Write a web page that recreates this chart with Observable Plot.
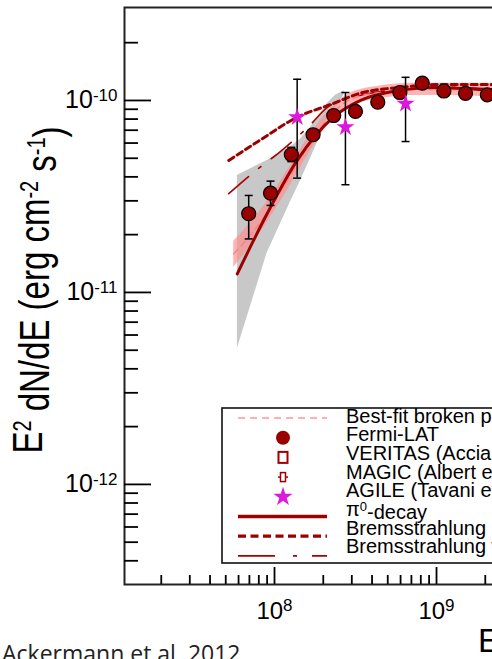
<!DOCTYPE html>
<html><head><meta charset="utf-8">
<script src="https://cdn.jsdelivr.net/npm/d3@7"></script>
<script src="https://cdn.jsdelivr.net/npm/@observablehq/plot@0.6"></script>
<style>
html,body{margin:0;padding:0;background:#fff;overflow:hidden;}
#wrap{position:relative;width:492px;height:659px;overflow:hidden;background:#fff;}
#wrap svg{position:absolute;left:0;top:0;}
</style></head><body><div id="wrap"></div>
<script>
// ---- data (E in eV, E^2 dN/dE in erg cm^-2 s^-1) ----
const fermiE  = [6.93e7, 9.45e7, 1.27e8, 1.73e8, 2.32e8, 3.16e8, 4.34e8, 5.94e8, 8.17e8, 1.11e9, 1.51e9, 2.06e9];
const fermiF  = [2.57e-11, 3.29e-11, 5.23e-11, 6.63e-11, 8.35e-11, 8.77e-11, 9.8e-11, 1.10e-10, 1.23e-10, 1.12e-10, 1.09e-10, 1.07e-10];
const fermiLo = [1.9e-11, 2.84e-11, 4.8e-11, 6.2e-11, 7.9e-11, 8.4e-11, 9.4e-11, 1.06e-10, 1.18e-10, 1.07e-10, 1.04e-10, 1.02e-10];
const fermiHi = [3.2e-11, 3.8e-11, 5.7e-11, 7.1e-11, 8.8e-11, 9.2e-11, 1.02e-10, 1.14e-10, 1.28e-10, 1.17e-10, 1.14e-10, 1.12e-10];

const agileE  = [1.38e8, 2.74e8, 6.44e8];
const agileF  = [8.18e-11, 7.26e-11, 9.62e-11];
const agileLo = [3.94e-11, 3.64e-11, 6.11e-11];
const agileHi = [1.29e-10, 1.10e-10, 1.32e-10];

const pionE = [5.89e7, 9.0e7, 1.38e8, 2.31e8, 3.4e8, 6.0e8, 9.6e8, 2.25e9];
const pionF = [1.25e-11, 2.57e-11, 4.87e-11, 8.18e-11, 1.0e-10, 1.13e-10, 1.17e-10, 1.13e-10];

const bremsE = [5.22e7, 8.0e7, 1.38e8, 2.2e8, 3.5e8, 6.0e8, 1.0e9, 2.25e9];
const bremsF = [4.87e-11, 6.15e-11, 8.18e-11, 9.5e-11, 1.10e-10, 1.17e-10, 1.21e-10, 1.21e-10];

const bremsBrkE = [5.22e7, 7.45e7, 1.14e8, 1.6e8, 2.2e8, 3.5e8, 7.0e8, 1.2e9, 2.25e9];
const bremsBrkF = [3.27e-11, 4.23e-11, 5.6e-11, 7.23e-11, 9.42e-11, 1.07e-10, 1.15e-10, 1.17e-10, 1.15e-10];

const fitE  = [5.6e7, 8.0e7, 1.2e8, 1.7e8, 2.3e8, 3.0e8, 4.5e8, 7.0e8, 1.2e9, 2.25e9];
const fitF  = [1.59e-11, 2.26e-11, 3.83e-11, 6.19e-11, 8.66e-11, 1.02e-10, 1.10e-10, 1.14e-10, 1.14e-10, 1.13e-10];
const fitLo = [1.35e-11, 2.0e-11, 3.4e-11, 5.6e-11, 8.0e-11, 9.4e-11, 1.02e-10, 1.06e-10, 1.06e-10, 1.04e-10];
const fitHi = [1.85e-11, 2.6e-11, 4.3e-11, 6.8e-11, 9.4e-11, 1.1e-10, 1.19e-10, 1.23e-10, 1.23e-10, 1.23e-10];

const grayE  = [5.9e7, 9.0e7, 1.25e8, 1.45e8, 1.67e8, 2.11e8, 2.4e8, 2.7e8];
const grayLo = [5.1e-12, 1.6e-11, 2.94e-11, 3.83e-11, 5.0e-11, 7.87e-11, 9.1e-11, 1.08e-10];
const grayHi = [4.07e-11, 4.87e-11, 5.71e-11, 6.3e-11, 7.26e-11, 9.6e-11, 1.07e-10, 1.12e-10];

const xMajorTicks = [1e8, 1e9];
const xMinorTicks = [2e7, 3e7, 4e7, 5e7, 6e7, 7e7, 8e7, 9e7, 2e8, 3e8, 4e8, 5e8, 6e8, 7e8, 8e8, 9e8, 2e9];
const yMajorTicks = [1e-12, 1e-11, 1e-10];
const yMinorTicks = [4e-13, 5e-13, 6e-13, 7e-13, 8e-13, 9e-13, 2e-12, 3e-12, 4e-12, 5e-12, 6e-12, 7e-12, 8e-12, 9e-12,
                     2e-11, 3e-11, 4e-11, 5e-11, 6e-11, 7e-11, 8e-11, 9e-11, 2e-10];

const legendLabels = ["Best-fit broken power law", "Fermi-LAT", "VERITAS (Acciari et al. 2010)", "MAGIC (Albert et al. 2007)",
                      "AGILE (Tavani et al. 2010)", "π^{0}-decay", "Bremsstrahlung", "Bremsstrahlung with break"];
const yLabelText = "E^{2} dN/dE (erg cm^{-2} s^{-1})";
const xLabelText = "E (eV)";
const captionText = "Ackermann et al. 2012";

// ---- tables ----
const rows = (E, F, extra = {}) => E.map((e, i) => Object.fromEntries([["e", e], ["f", F[i]], ...Object.entries(extra).map(([k, a]) => [k, a[i]])]));
const fermi = rows(fermiE, fermiF, {lo: fermiLo, hi: fermiHi});
const agile = rows(agileE, agileF, {lo: agileLo, hi: agileHi});
const pion = rows(pionE, pionF);
const brems = rows(bremsE, bremsF);
const bremsBrk = rows(bremsBrkE, bremsBrkF);
const fit = rows(fitE, fitF, {lo: fitLo, hi: fitHi});
const gray = rows(grayE, grayE.map(() => 0), {lo: grayLo, hi: grayHi});

const DARK = "#9c0000", PINK = "#ff9696", MAG = "#dd18dd";
const cap = {draw(ctx, size) { const r = Math.sqrt(size / Math.PI); ctx.moveTo(-r, 0); ctx.lineTo(r, 0); }};
const fmt = d => "10^{" + Math.round(Math.log10(d)) + "}";

const chart = Plot.plot({
  width: 492, height: 659,
  marginLeft: 124, marginRight: -2, marginTop: 7, marginBottom: 75,
  style: {fontFamily: "'Liberation Sans', Arial, sans-serif", background: "transparent", color: "black"},
  x: {type: "log", domain: [1.186e7, 2.28e9]},
  y: {type: "log", domain: [3.01e-13, 3.05e-10]},
  marks: [
    Plot.areaY(gray, {x: "e", y1: "lo", y2: "hi", fill: "#c8c8c8"}),
    Plot.areaY(fit, {x: "e", y1: "lo", y2: "hi", fill: "#ff8c8c", fillOpacity: 0.65, curve: "monotone-x"}),
    Plot.line(brems, {x: "e", y: "f", stroke: DARK, strokeWidth: 3, strokeDasharray: "6,4", curve: "monotone-x"}),
    Plot.line(bremsBrk, {x: "e", y: "f", stroke: "#a80000", strokeWidth: 1.6, strokeDasharray: "26,13,3,13", curve: "monotone-x"}),
    Plot.line(fit, {x: "e", y: "f", stroke: "#ff8080", strokeWidth: 1.5, strokeDasharray: "6,5", curve: "monotone-x"}),
    Plot.line(pion, {x: "e", y: "f", stroke: DARK, strokeWidth: 3, curve: "monotone-x"}),
    Plot.ruleX(fermi, {x: "e", y1: "lo", y2: "hi", stroke: "black", strokeWidth: 1.5}),
    Plot.dot(fermi, {x: "e", y: "lo", symbol: cap, r: 4, stroke: "black", strokeWidth: 1.5}),
    Plot.dot(fermi, {x: "e", y: "hi", symbol: cap, r: 4, stroke: "black", strokeWidth: 1.5}),
    Plot.ruleX(agile, {x: "e", y1: "lo", y2: "hi", stroke: "black", strokeWidth: 1.5}),
    Plot.dot(agile, {x: "e", y: "lo", symbol: cap, r: 4, stroke: "black", strokeWidth: 1.5}),
    Plot.dot(agile, {x: "e", y: "hi", symbol: cap, r: 4, stroke: "black", strokeWidth: 1.5}),
    Plot.dot(fermi, {x: "e", y: "f", r: 7, fill: "#990000", stroke: "black", strokeWidth: 1.2}),
    Plot.dot(agile, {x: "e", y: "f", symbol: "star", r: 5.7, fill: MAG, stroke: "none"}),
    Plot.frame({stroke: "#222", strokeWidth: 2}),
    Plot.axisX({ticks: xMajorTicks, tickSize: -17, fill: "none", strokeWidth: 1.8, label: null}),
    Plot.axisX({ticks: xMinorTicks, tickSize: -9, fill: "none", strokeWidth: 1.8, label: null}),
    Plot.axisX({ticks: xMajorTicks, tickSize: 0, tickPadding: 17, tickFormat: fmt, fontSize: 24, label: null}),
    Plot.axisY({ticks: yMajorTicks, tickSize: -27, fill: "none", strokeWidth: 1.8, label: null}),
    Plot.axisY({ticks: yMinorTicks, tickSize: -14, fill: "none", strokeWidth: 1.8, label: null}),
    Plot.axisY({ticks: yMajorTicks, tickSize: 0, tickPadding: 7, tickFormat: fmt, fontSize: 25, label: null})
  ]
});

// turn "a^{b}c" into tspans with a raised, smaller b
function superscript(sel, size) {
  sel.each(function () {
    const s = this.textContent;
    if (!s.includes("^{")) return;
    const t = d3.select(this); this.textContent = "";
    let raised = false;
    s.split(/(\^\{[^}]*\})/).forEach(part => {
      if (!part) return;
      if (part.startsWith("^{")) {
        t.append("tspan").attr("dy", raised ? null : "-0.42em").attr("font-size", size).text(part.slice(2, -1));
        raised = true;
      } else {
        const ts = t.append("tspan").text(part);
        if (raised) { ts.attr("dy", "0.42em"); raised = false; }
      }
    });
  });
}
superscript(d3.select(chart).selectAll('g[aria-label$="tick label"] text'), "17px");
document.getElementById("wrap").appendChild(chart);

// ---- overlay: axis titles, legend, caption ----
const ov = d3.select("#wrap").append("svg").attr("width", 492).attr("height", 659)
  .style("pointer-events", "none").attr("font-family", "'Liberation Sans', Arial, sans-serif");

const yl = ov.append("text").attr("transform", "translate(42,290) rotate(-90) scale(1,1.3)")
  .attr("text-anchor", "middle").attr("font-size", 33).text(yLabelText);
superscript(yl, "20px");
ov.append("text").attr("x", 478).attr("y", 652).attr("font-size", 33).text(xLabelText);

const lg = ov.append("g");
lg.append("rect").attr("x", 222).attr("y", 408).attr("width", 300).attr("height", 155)
  .attr("fill", "white").attr("stroke", "#111").attr("stroke-width", 1.6);
const symY = i => 418 + i * 19.7;
const txtY = i => 422.5 + i * 18.7;
const L0 = 238, L1 = 327, SC = 283;
lg.append("line").attr("x1", L0).attr("x2", L1).attr("y1", symY(0)).attr("y2", symY(0))
  .attr("stroke", PINK).attr("stroke-width", 1.5).attr("stroke-dasharray", "7,5");
lg.append("circle").attr("cx", SC).attr("cy", symY(1)).attr("r", 7).attr("fill", "#990000");
lg.append("rect").attr("x", SC - 4.5).attr("y", symY(2) - 5.5).attr("width", 9).attr("height", 11)
  .attr("fill", "white").attr("stroke", "#a00000").attr("stroke-width", 2);
lg.append("line").attr("x1", SC - 5).attr("x2", SC + 5).attr("y1", symY(3)).attr("y2", symY(3)).attr("stroke", "#a00000").attr("stroke-width", 1.5);
lg.append("rect").attr("x", SC - 2.5).attr("y", symY(3) - 4.5).attr("width", 5).attr("height", 9)
  .attr("fill", "white").attr("stroke", "#a00000").attr("stroke-width", 1.5);
lg.append("path").attr("transform", `translate(${SC},${symY(4)})`).attr("d", d3.symbol(d3.symbolStar, 115)()).attr("fill", MAG);
lg.append("line").attr("x1", L0).attr("x2", L1).attr("y1", symY(5)).attr("y2", symY(5)).attr("stroke", DARK).attr("stroke-width", 3.5);
lg.append("line").attr("x1", L0).attr("x2", L1).attr("y1", symY(6)).attr("y2", symY(6)).attr("stroke", DARK).attr("stroke-width", 3.2).attr("stroke-dasharray", "8,4.5");
lg.append("line").attr("x1", L0).attr("x2", L1).attr("y1", symY(7)).attr("y2", symY(7)).attr("stroke", "#a80000").attr("stroke-width", 1.6).attr("stroke-dasharray", "37,18,4,15");
legendLabels.forEach((s, i) => {
  const t = lg.append("text").attr("x", 346).attr("y", txtY(i)).attr("font-size", 20).text(s);
  superscript(t, "13px");
});

ov.append("text").attr("x", 2).attr("y", 662).attr("font-family", "'Open Sans', sans-serif")
  .attr("font-size", 23).attr("fill", "#222").text(captionText);
</script>
</body></html>
